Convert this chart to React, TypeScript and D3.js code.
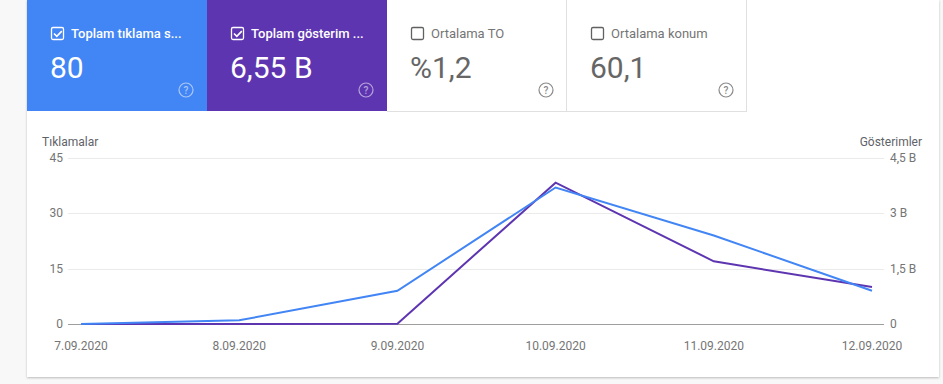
import React from "react";
import * as d3 from "d3";

const dates = ["7.09.2020", "8.09.2020", "9.09.2020", "10.09.2020", "11.09.2020", "12.09.2020"];
const clicks = [0, 1, 9, 37, 24, 9];
const impressions = [0, 0, 0.01, 3.83, 1.7, 1.0]; // billions
const leftTicks = [0, 15, 30, 45];
const rightTicks = [0, 1.5, 3, 4.5];
const rightTickLabels = ["0", "1,5 B", "3 B", "4,5 B"];

const tiles = [
  { label: "Toplam tıklama s...", value: "80", checked: true, bg: "#4285f4" },
  { label: "Toplam gösterim ...", value: "6,55 B", checked: true, bg: "#5e35b1" },
  { label: "Ortalama TO", value: "%1,2", checked: false, bg: "#ffffff" },
  { label: "Ortalama konum", value: "60,1", checked: false, bg: "#ffffff" },
];

const W = 943;
const H = 384;

export default function App() {
  const x = d3.scalePoint<string>().domain(dates).range([81, 872]);
  const yL = d3.scaleLinear().domain([0, 45]).range([324, 158]);
  const yR = d3.scaleLinear().domain([0, 4.5]).range([324, 158]);
  const lineL = d3.line<number>().x((_, i) => x(dates[i])!).y((d) => yL(d));
  const lineR = d3.line<number>().x((_, i) => x(dates[i])!).y((d) => yR(d));
  const font = "Roboto, Arial, sans-serif";
  const tileW = 180;
  const tileX0 = 27;

  return (
    <div style={{ position: "fixed", left: 0, top: 0 }}>
      <svg width={W} height={H} style={{ display: "block" }}>
        <defs>
          <filter id="sh" x="-5%" y="-5%" width="110%" height="115%">
            <feDropShadow dx="0" dy="1" stdDeviation="1.2" floodColor="#000" floodOpacity="0.25" />
          </filter>
        </defs>
        <rect x={0} y={0} width={W} height={H} fill="#f8f8f8" />
        <rect x={27} y={0} width={912} height={377} fill="#fff" filter="url(#sh)" />
        {tiles.map((t, i) => {
          const tx = tileX0 + i * tileW;
          const dark = t.bg !== "#ffffff";
          const fg = dark ? "#fff" : "#666666";
          return (
            <g key={i}>
              <rect x={tx} y={0} width={tileW} height={111} fill={t.bg} />
              {!dark && (
                <path d={`M${tx + tileW - 0.5},0V111.5M${tx},111.5H${tx + tileW}`} stroke="#e0e0e0" strokeWidth={1} fill="none" />
              )}
              <rect x={tx + 24.5} y={27.5} width={12} height={12} rx={1.5} fill="none" stroke={dark ? "#fff" : "#616161"} strokeWidth={1.3} />
              {t.checked && (
                <path d={`M${tx + 27},${33.5}l2.8,2.8l5,-5.2`} fill="none" stroke="#fff" strokeWidth={1.6} />
              )}
              <text x={tx + 44} y={38} fontFamily={font} fontSize={13} fontWeight={dark ? 500 : 400} fill={dark ? "#fff" : "#757575"}>
                {t.label}
              </text>
              <text x={tx + 23} y={78} fontFamily={font} fontSize={30} fill={fg}>
                {t.value}
              </text>
              <circle cx={tx + 159} cy={90} r={7} fill="none" stroke={dark ? "rgba(255,255,255,0.55)" : "#8a8a8a"} strokeWidth={1.2} />
              <text x={tx + 159} y={93.8} textAnchor="middle" fontFamily={font} fontSize={10} fontWeight={500} fill={dark ? "rgba(255,255,255,0.55)" : "#8a8a8a"}>
                ?
              </text>
            </g>
          );
        })}
        <text x={42} y={146} fontFamily={font} fontSize={12} fill="#5f6368">Tıklamalar</text>
        <text x={922} y={146} textAnchor="end" fontFamily={font} fontSize={12} fill="#5f6368">Gösterimler</text>
        {leftTicks.map((t) => (
          <g key={t}>
            <line x1={68} x2={884} y1={Math.round(yL(t)) + 0.5} y2={Math.round(yL(t)) + 0.5} stroke={t === 0 ? "#9e9e9e" : "#ebebeb"} strokeWidth={1} />
            <text x={63} y={yL(t) + 4} textAnchor="end" fontFamily={font} fontSize={12} fill="#757575">{t}</text>
          </g>
        ))}
        {rightTicks.map((t, i) => (
          <text key={t} x={890} y={yR(t) + 4} fontFamily={font} fontSize={12} fill="#757575">{rightTickLabels[i]}</text>
        ))}
        {dates.map((d) => (
          <text key={d} x={x(d)} y={350} textAnchor="middle" fontFamily={font} fontSize={12} fill="#757575">{d}</text>
        ))}
        <path d={lineR(impressions)!} fill="none" stroke="#5e35b1" strokeWidth={2} />
        <path d={lineL(clicks)!} fill="none" stroke="#4285f4" strokeWidth={2} />
      </svg>
    </div>
  );
}
